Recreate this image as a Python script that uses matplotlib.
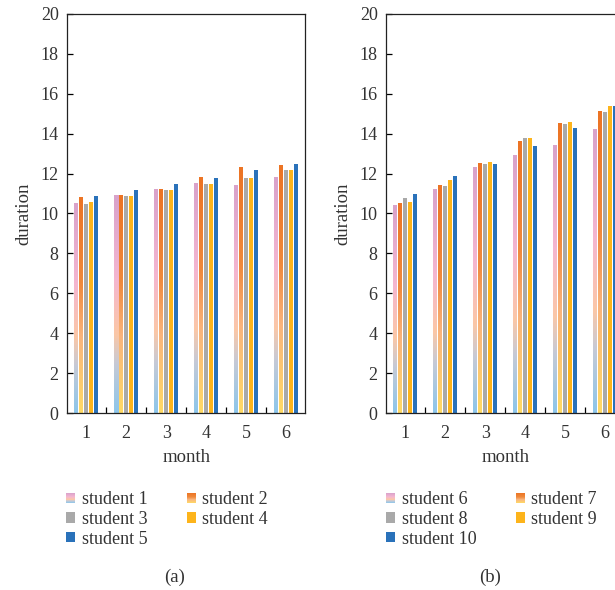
import numpy as np
import matplotlib.pyplot as plt
from matplotlib.colors import LinearSegmentedColormap
from matplotlib.patches import Rectangle
from matplotlib.legend_handler import HandlerBase

plt.rcParams['font.family'] = ['Liberation Serif', 'DejaVu Serif']

# months on the x axis
months = [1, 2, 3, 4, 5, 6]

# panel (a)
names_a = ['student 1', 'student 2', 'student 3', 'student 4', 'student 5']
student1 = [10.5, 10.9, 11.2, 11.5, 11.4, 11.8]
student2 = [10.8, 10.9, 11.2, 11.8, 12.3, 12.4]
student3 = [10.5, 10.9, 11.2, 11.5, 11.8, 12.2]
student4 = [10.6, 10.9, 11.2, 11.5, 11.8, 12.2]
student5 = [10.9, 11.2, 11.5, 11.8, 12.2, 12.5]

# panel (b)
names_b = ['student 6', 'student 7', 'student 8', 'student 9', 'student 10']
student6 = [10.4, 11.2, 12.3, 12.9, 13.4, 14.2]
student7 = [10.5, 11.4, 12.5, 13.6, 14.5, 15.1]
student8 = [10.8, 11.4, 12.5, 13.8, 14.5, 15.1]
student9 = [10.6, 11.7, 12.6, 13.8, 14.6, 15.4]
student10 = [11.0, 11.9, 12.5, 13.4, 14.3, 15.4]

yticks = list(range(0, 21, 2))

# fills: gradient maps for the first two series, flat colours for the rest
grad1 = LinearSegmentedColormap.from_list('g1', [
    (0.0, '#8ec6ea'), (0.22, '#c6cad6'), (0.36, '#fbc7a6'),
    (0.62, '#f4b6d0'), (1.0, '#d9a2ca')])
grad2 = LinearSegmentedColormap.from_list('g2', [
    (0.0, '#ffd966'), (0.35, '#f9b47c'), (0.6, '#f08a3c'), (1.0, '#ec7424')])
fills = [grad1, grad2, '#a9a9a9', '#fdb41b', '#2a72ba']

text_color = '#333333'
bar_w = 0.1
slot = 0.122


class GradientHandler(HandlerBase):
    def __init__(self, cmap, **kw):
        super().__init__(**kw)
        self.cmap = cmap

    def create_artists(self, legend, orig_handle, xdescent, ydescent,
                       width, height, fontsize, trans):
        n = 10
        arts = []
        for k in range(n):
            arts.append(Rectangle((-xdescent, -ydescent + height * k / n),
                                  width, height / n + 0.05,
                                  facecolor=self.cmap((k + 0.5) / n),
                                  edgecolor='none', transform=trans))
        return arts


def draw_panel(ax, series, names, legend_x):
    col = np.linspace(0, 1, 64).reshape(-1, 1)
    handles = []
    handler_map = {}
    for i, (vals, fill) in enumerate(zip(series, fills)):
        offset = (i - 2) * slot
        if isinstance(fill, LinearSegmentedColormap):
            for m, v in zip(months, vals):
                x0 = m + offset - bar_w / 2
                ax.imshow(col, cmap=fill, origin='lower', aspect='auto',
                          extent=[x0, x0 + bar_w, 0, v],
                          interpolation='bilinear', zorder=2)
            h = Rectangle((0, 0), 1, 1, label=names[i])
            handler_map[h] = GradientHandler(fill)
        else:
            h = ax.bar(np.array(months) + offset, vals, width=bar_w,
                       color=fill, zorder=2, label=names[i])
        handles.append(h)

    ax.set_xlim(0.52, 6.48)
    ax.set_ylim(0, 20)
    ax.set_yticks(yticks)
    ax.set_xticks(months)
    ax.set_xticks([1.5, 2.5, 3.5, 4.5, 5.5], minor=True)
    ax.tick_params(axis='x', which='major', length=0, pad=9,
                   labelsize=13, labelcolor=text_color)
    ax.tick_params(axis='x', which='minor', direction='in', length=4,
                   width=0.9)
    ax.tick_params(axis='y', direction='in', length=4, width=0.9,
                   labelsize=13, labelcolor=text_color, pad=6)
    for sp in ax.spines.values():
        sp.set_linewidth(0.9)
        sp.set_color('#222222')
    ax.set_xlabel('month', fontsize=13.5, color=text_color, labelpad=5)
    ax.set_ylabel('duration', fontsize=13.5, color=text_color, labelpad=6)

    # row-major order in two columns
    order = [0, 2, 4, 1, 3]
    leg = ax.figure.legend([handles[k] for k in order],
                           [names[k] for k in order],
                           handler_map=handler_map, ncol=2,
                           loc='upper left',
                           bbox_to_anchor=(legend_x, 1 - 484 / 590),
                           frameon=False, fontsize=13,
                           handlelength=0.5, handleheight=0.5,
                           handletextpad=0.35, columnspacing=2.2,
                           labelspacing=0.15, borderaxespad=0)
    for t in leg.get_texts():
        t.set_color(text_color)


fig = plt.figure(figsize=(6.15, 5.9), dpi=100)
ax_a = fig.add_axes([67 / 615, 177 / 590, 238.4 / 615, 399 / 590])
ax_b = fig.add_axes([386 / 615, 177 / 590, 238.4 / 615, 399 / 590])

draw_panel(ax_a, [student1, student2, student3, student4, student5],
           names_a, 59 / 615)
draw_panel(ax_b, [student6, student7, student8, student9, student10],
           names_b, 379 / 615)

fig.text(175 / 615, 1 - 577 / 590, '(a)', ha='center', va='center',
         fontsize=13.5, color=text_color)
fig.text(490 / 615, 1 - 577 / 590, '(b)', ha='center', va='center',
         fontsize=13.5, color=text_color)

fig.savefig('out.png', dpi=100)
